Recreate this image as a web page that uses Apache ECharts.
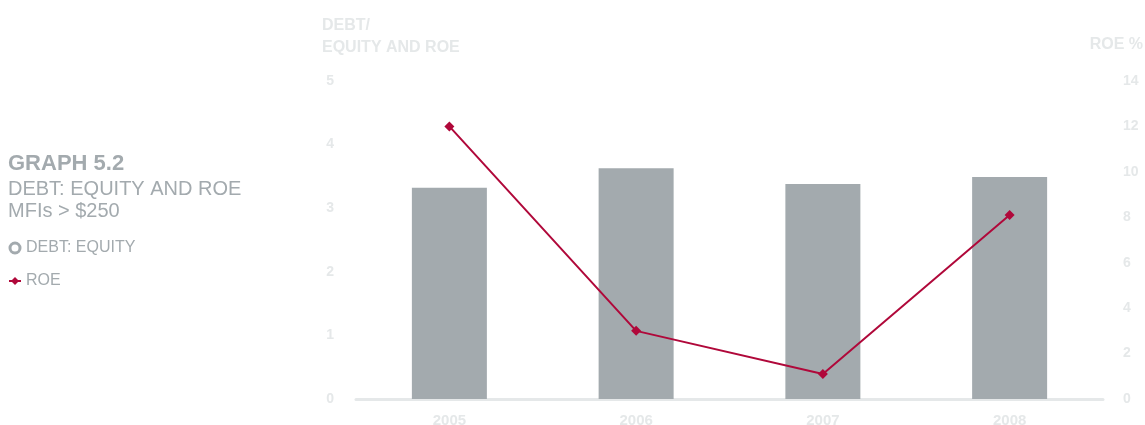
<!DOCTYPE html>
<html>
<head>
<meta charset="utf-8">
<script src="https://cdn.jsdelivr.net/npm/echarts@6/dist/echarts.min.js"></script>
<style>
  html, body { margin: 0; padding: 0; background: #fff; }
  #chart { width: 1145px; height: 425px; }
</style>
</head>
<body>
<div id="chart"></div>
<script>
  var years = ['2005', '2006', '2007', '2008'];
  var debtEquity = [3.32, 3.63, 3.38, 3.49];
  var roe = [12.0, 3.0, 1.1, 8.1];
  var leftTicks = [0, 1, 2, 3, 4, 5];
  var rightTicks = [0, 2, 4, 6, 8, 10, 12, 14];

  var grey = '#a3aaae';
  var faint = '#e5e8e9';
  var red = '#b0083a';
  var font = '"Liberation Sans", Arial, sans-serif';

  var chart = echarts.init(document.getElementById('chart'));
  var option = {
    backgroundColor: '#fff',
    animation: false,
    title: {
      left: 3,
      top: 148,
      text: 'GRAPH 5.2',
      subtext: 'DEBT: EQUITY AND ROE\nMFIs > $250',
      itemGap: 3,
      textStyle: { fontFamily: font, fontWeight: 'bold', fontSize: 22, color: grey },
      subtextStyle: { fontFamily: font, fontSize: 20, lineHeight: 22, color: grey }
    },
    legend: {
      orient: 'vertical',
      left: 3,
      top: 235,
      itemGap: 17,
      itemWidth: 12,
      itemHeight: 10,
      textStyle: { fontFamily: font, fontSize: 16, color: grey },
      data: [
        { name: 'DEBT: EQUITY', icon: 'circle',
          itemStyle: { color: '#fff', borderColor: grey, borderWidth: 3 } },
        { name: 'ROE' }
      ]
    },
    grid: { left: 356, right: 42, top: 81, bottom: 26, outerBoundsMode: 'none' },
    xAxis: {
      type: 'category',
      data: years,
      axisTick: { show: false },
      axisLine: { lineStyle: { color: faint, width: 3 } },
      axisLabel: { margin: 14, fontFamily: font, fontWeight: 'bold', fontSize: 15, color: faint }
    },
    yAxis: [
      {
        type: 'value',
        min: leftTicks[0],
        max: leftTicks[leftTicks.length - 1],
        interval: 1,
        name: 'DEBT/\nEQUITY AND ROE',
        nameLocation: 'end',
        nameGap: 22,
        nameTextStyle: { align: 'left', padding: [0, 0, 0, -34], fontFamily: font, fontWeight: 'bold',
          fontSize: 16, lineHeight: 22, color: faint },
        splitLine: { show: false },
        axisLine: { show: false },
        axisTick: { show: false },
        axisLabel: { margin: 22, fontFamily: font, fontWeight: 'bold', fontSize: 14, color: faint }
      },
      {
        type: 'value',
        min: rightTicks[0],
        max: rightTicks[rightTicks.length - 1],
        interval: 2,
        name: 'ROE %',
        nameLocation: 'end',
        nameGap: 28,
        nameTextStyle: { align: 'right', padding: [0, -40, 0, 0], fontFamily: font, fontWeight: 'bold',
          fontSize: 16, color: faint },
        splitLine: { show: false },
        axisLine: { show: false },
        axisTick: { show: false },
        axisLabel: { margin: 20, fontFamily: font, fontWeight: 'bold', fontSize: 14, color: faint }
      }
    ],
    series: [
      {
        name: 'DEBT: EQUITY',
        type: 'bar',
        data: debtEquity,
        barWidth: 75,
        itemStyle: { color: grey }
      },
      {
        name: 'ROE',
        type: 'line',
        yAxisIndex: 1,
        data: roe,
        symbol: 'diamond',
        symbolSize: 10,
        itemStyle: { color: red },
        lineStyle: { color: red, width: 2 }
      }
    ]
  };
  chart.setOption(option);
  window.addEventListener('resize', function () {
    chart.resize();
  });
</script>
</body>
</html>
